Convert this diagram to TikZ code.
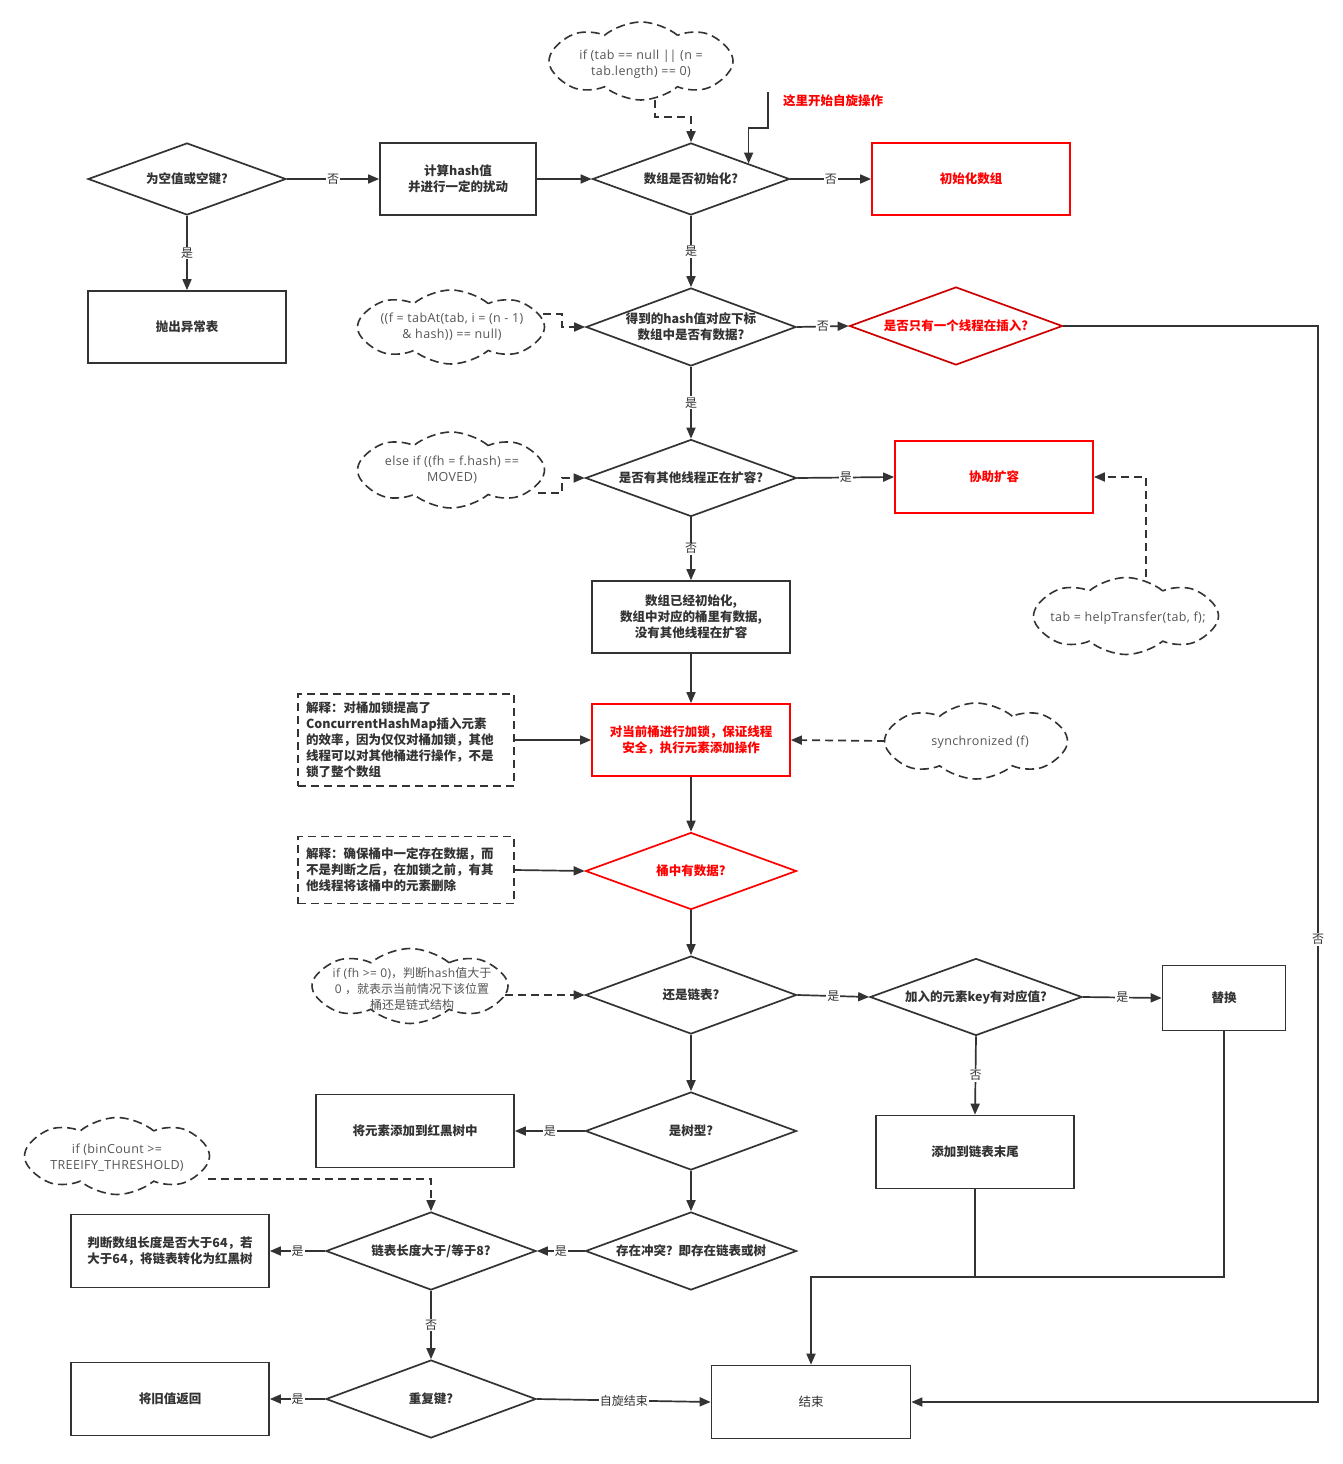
\documentclass[tikz,border=0pt]{standalone}
\usepackage{fontspec}
\setmainfont{Noto Sans CJK SC}
\newfontfamily\cjk{Noto Sans CJK SC}
\newfontfamily\codefont{Open Sans}[LetterSpace=3]
\newfontfamily\codetight{Open Sans}
\usetikzlibrary{shapes.geometric,shapes.symbols,arrows.meta,calc}
\definecolor{ln}{HTML}{333333}
\definecolor{rd}{HTML}{FF0000}
\definecolor{drd}{HTML}{CC0000}
\definecolor{code}{HTML}{555555}
\begin{document}
\begin{tikzpicture}[x=1pt,y=-1pt,
  fc/.style={font=\fontsize{12.5}{16}\selectfont\bfseries, text=ln, align=center},
  fr/.style={font=\fontsize{12.5}{16}\selectfont, text=ln, align=center},
  box/.style={rectangle, draw=ln, line width=1.7pt, fill=white, fc, inner sep=2pt},
  redbox/.style={box, draw=rd, text=rd},
  dia/.style={diamond, draw=ln, line width=1.7pt, fill=white, inner sep=0pt},
  reddia/.style={dia, draw=drd},
  cloudsh/.style={cloud, cloud puffs=8, cloud puff arc=80, aspect=2.4, draw=ln, line width=1.6pt, dash pattern=on 9pt off 5pt, inner sep=0pt},
  codetxt/.style={font=\codefont\fontsize{12.5}{16}\selectfont, text=code, align=center, inner sep=0pt},
  note/.style={rectangle, draw=ln, line width=1.6pt, dash pattern=on 8pt off 5pt, fc, align=left, text width=200pt, inner sep=0pt},
  conn/.style={draw=ln, line width=1.7pt, -{Triangle[length=11pt,width=9pt]}},
  dconn/.style={conn, dash pattern=on 8pt off 5pt},
  plain/.style={draw=ln, line width=1.7pt},
  elab/.style={font=\fontsize{12}{14}\selectfont, text=ln, fill=white, inner sep=1pt}
]
\fill[white] (0,0) rectangle (1343,1464);
\useasboundingbox (0,0) rectangle (1343,1464);

% nodes
\node[dia, minimum width=198pt, minimum height=72pt, label={[fc]center:为空值或空键?}] (d_null) at (187,179) {};
\node[box, minimum width=156pt, minimum height=72pt] (b_hash) at (458,179) {计算hash值\\并进行一定的扰动};
\node[dia, minimum width=197pt, minimum height=72pt, label={[fc]center:数组是否初始化?}] (d_init) at (691,179) {};
\node[redbox, minimum width=198pt, minimum height=72pt] (b_initarr) at (971,179) {初始化数组};
\node[cloudsh, minimum width=184pt, minimum height=78pt] (cloud1) at (641,61) {};
\node[codetxt] (cloud1t) at (641,64) {if (tab == null {\codetight ||} (n =\\tab.length) == 0)};
\node[fc, text=rd] (spintxt) at (833,101) {这里开始自旋操作};
\coordinate (spin) at (768,92);

\node[box, minimum width=198pt, minimum height=72pt] (b_throw) at (187,327) {抛出异常表};
\node[dia, minimum width=210pt, minimum height=78pt, label={[fc]center:{得到的hash值对应下标\\数组中是否有数据?}}] (d_hasdata) at (691,327) {};
\node[cloudsh, minimum width=187pt, minimum height=74pt] (cloud2) at (451,327) {};
\node[codetxt] (cloud2t) at (452,327) {((f = tabAt(tab, i = (n - 1)\\\& hash)) == null)};
\node[reddia, minimum width=213pt, minimum height=78pt, label={[fc,text=rd]center:是否只有一个线程在插入?}] (d_single) at (956,326) {};

\node[dia, minimum width=211pt, minimum height=77pt, label={[fc]center:是否有其他线程正在扩容?}] (d_resize) at (691,478) {};
\node[cloudsh, minimum width=187pt, minimum height=76pt] (cloud3) at (451,470) {};
\node[codetxt] (cloud3t) at (452,470) {else if ((fh = f.hash) ==\\MOVED)};
\node[redbox, minimum width=198pt, minimum height=72pt] (b_help) at (994,477) {协助扩容};
\node[cloudsh, minimum width=185pt, minimum height=77pt] (cloud4) at (1126,616) {};
\node[codetxt] (cloud4t) at (1128,618) {tab = helpTransfer(tab, f);};

\node[box, minimum width=198pt, minimum height=72pt] (b_state) at (691,617) {数组已经初始化,\\数组中对应的桶里有数据,\\没有其他线程在扩容};
\node[redbox, minimum width=198pt, minimum height=72pt] (b_lock) at (691,740) {对当前桶进行加锁，保证线程\\安全，执行元素添加操作};
\node[note, minimum width=216pt, minimum height=92pt] (note1) at (406,740) {解释：对桶加锁提高了\\ConcurrentHashMap插入元素\\的效率，因为仅仅对桶加锁，其他\\线程可以对其他桶进行操作，不是\\锁了整个数组};
\node[cloudsh, minimum width=183pt, minimum height=76pt] (cloud5) at (976,741) {};
\node[codetxt] (cloud5t) at (980,742) {synchronized (f)};

\node[dia, draw=rd, minimum width=211pt, minimum height=77pt, label={[fc,text=rd]center:桶中有数据?}] (d_bucket) at (691,871) {};
\node[note, minimum width=216pt, minimum height=67pt] (note2) at (406,870) {解释：确保桶中一定存在数据，而\\不是判断之后，在加锁之前，有其\\他线程将该桶中的元素删除};

\node[dia, minimum width=211pt, minimum height=78pt, label={[fc]center:还是链表?}] (d_list) at (691,995) {};
\node[cloudsh, minimum width=196pt, minimum height=75pt] (cloud6) at (410,986) {};
\node[codetxt, font=\codefont\fontsize{12}{16}\selectfont] (cloud6t) at (412,989) {if (fh >= 0){\cjk ，判断}hash{\cjk 值大于}\\0 {\cjk ，就表示当前情况下该位置}\\{\cjk 桶还是链式结构}};
\node[dia, minimum width=212pt, minimum height=77pt, label={[fc]center:加入的元素key有对应值?}] (d_key) at (976,997) {};
\node[box, minimum width=123pt, minimum height=65pt] (b_replace) at (1224,998) {替换};
\node[box, minimum width=198pt, minimum height=73pt] (b_append) at (975,1152) {添加到链表末尾};

\node[dia, minimum width=211pt, minimum height=78pt, label={[fc]center:是树型?}] (d_tree) at (691,1131) {};
\node[box, minimum width=198pt, minimum height=73pt] (b_rbt) at (415,1131) {将元素添加到红黑树中};
\node[dia, minimum width=211pt, minimum height=78pt, label={[fc]center:存在冲突？即存在链表或树}] (d_conflict) at (691,1251) {};
\node[dia, minimum width=210pt, minimum height=78pt, label={[fc]center:链表长度大于/等于8?}] (d_len) at (431,1251) {};
\node[box, minimum width=198pt, minimum height=73pt] (b_tree) at (170,1251) {判断数组长度是否大于64，若\\大于64，将链表转化为红黑树};
\node[cloudsh, minimum width=185pt, minimum height=77pt] (cloud7) at (117,1156) {};
\node[codetxt] (cloud7t) at (117,1158) {if (binCount >=\\TREEIFY\_THRESHOLD)};
\node[dia, minimum width=210pt, minimum height=78pt, label={[fc]center:重复键?}] (d_dup) at (431,1399) {};
\node[box, minimum width=198pt, minimum height=73pt] (b_old) at (170,1399) {将旧值返回};
\node[box, fr, minimum width=199pt, minimum height=73pt] (b_end) at (811,1402) {结束};

% connectors
\draw[conn] (d_null.east) -- node[elab]{否} (b_hash.west);
\draw[conn] (d_null.south) -- node[elab]{是} (b_throw.north);
\draw[conn] (b_hash.east) -- (d_init.west);
\draw[conn] (d_init.east) -- node[elab]{否} (b_initarr.west);
\draw[dconn] ($(cloud1.center)+(14,39)$) -- ++(0,17) -| (d_init.north);
\draw[conn] (spin) -- ++(0,36) -| ($(d_init.north)!0.58!(d_init.east)$);
\draw[conn] (d_init.south) -- node[elab]{是} (d_hasdata.north);
\draw[dconn] ($(cloud2.center)+(92,-13)$) -- ++(19,0) |- (d_hasdata.west);
\draw[conn] (d_hasdata.east) -- node[elab]{否} (d_single.west);
\draw[conn] (d_hasdata.south) -- node[elab]{是} (d_resize.north);
\coordinate (rc) at (1318,1402);
\draw[conn] (d_single.east) -| node[elab, pos=0.785]{否} (rc) -- (b_end.east);
\draw[dconn] ($(cloud3.center)+(87,23)$) -- ++(24,0) |- (d_resize.west);
\draw[conn] (d_resize.east) -- node[elab]{是} (b_help.west);
\draw[dconn] ($(cloud4.center)+(20,-39)$) |- (b_help.east);
\draw[conn] (d_resize.south) -- node[elab]{否} (b_state.north);
\draw[conn] (b_state.south) -- (b_lock.north);
\draw[conn] (note1.east) -- (b_lock.west);
\draw[dconn] ($(cloud5.center)+(-91,0)$) -- (b_lock.east);
\draw[conn] (b_lock.south) -- (d_bucket.north);
\draw[conn] (note2.east) -- (d_bucket.west);
\draw[conn] (d_bucket.south) -- (d_list.north);
\draw[dconn] ($(cloud6.center)+(95,9)$) -- (d_list.west);
\draw[conn] (d_list.east) -- node[elab]{是} (d_key.west);
\draw[conn] (d_key.east) -- node[elab]{是} (b_replace.west);
\draw[conn] (d_key.south) -- node[elab]{否} (b_append.north);
\draw[conn] (d_list.south) -- (d_tree.north);
\draw[conn] (d_tree.west) -- node[elab]{是} (b_rbt.east);
\draw[conn] (d_tree.south) -- (d_conflict.north);
\draw[conn] (d_conflict.west) -- node[elab]{是} (d_len.east);
\draw[conn] (d_len.west) -- node[elab]{是} (b_tree.east);
\draw[dconn] ($(cloud7.center)+(91,23)$) -| (d_len.north);
\draw[conn] (d_len.south) -- node[elab]{否} (d_dup.north);
\draw[conn] (d_dup.west) -- node[elab]{是} (b_old.east);
\draw[conn] (d_dup.east) -- node[elab]{自旋结束} (b_end.west);
\coordinate (mj) at (811,1277);
\draw[conn] (b_replace.south) |- (mj) -- (b_end.north);
\draw[plain] (b_append.south) -- (b_append.south |- mj);
\end{tikzpicture}
\end{document}
